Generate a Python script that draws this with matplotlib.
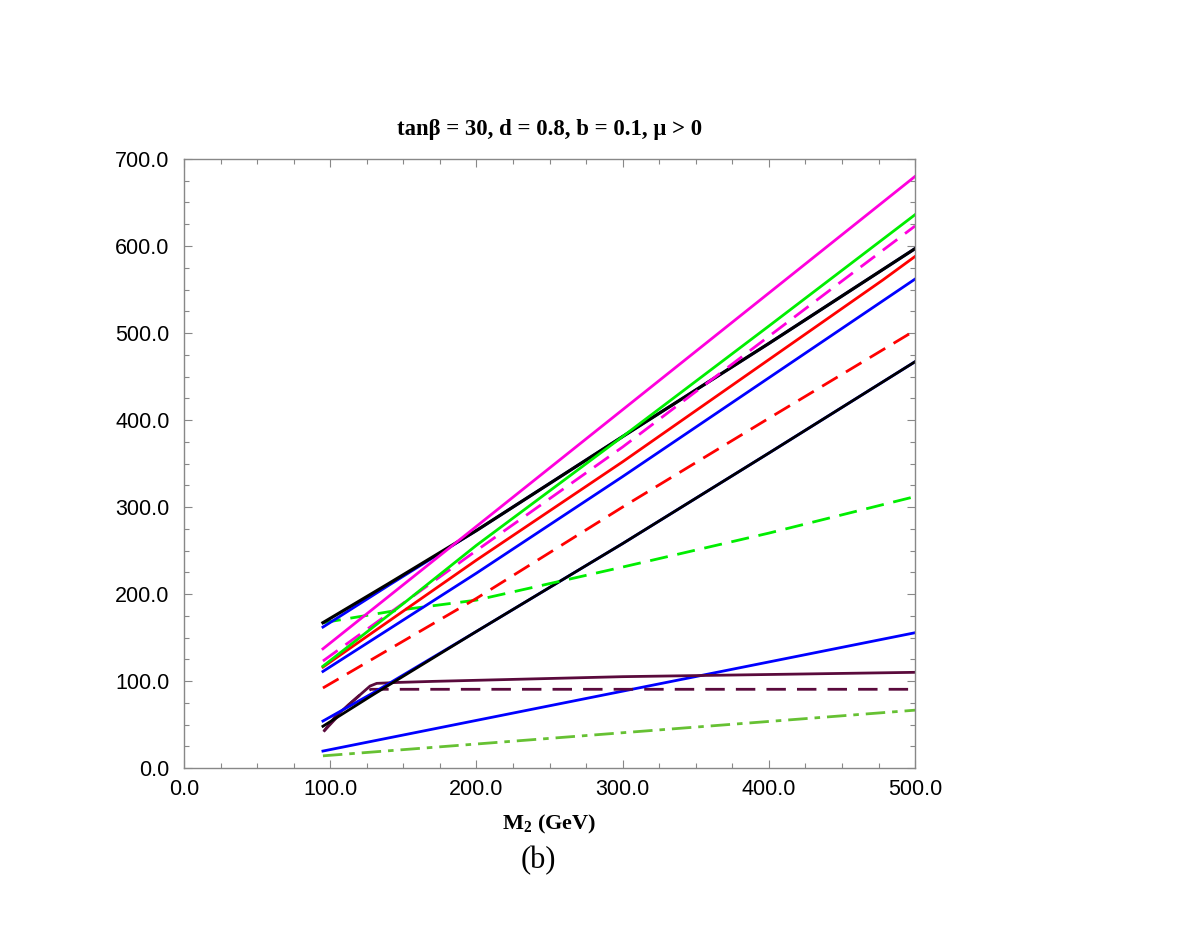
import matplotlib
matplotlib.use("Agg")
import matplotlib.pyplot as plt
from matplotlib.ticker import MultipleLocator, FormatStrFormatter

# curves, M2 in GeV vs mass in GeV
m2_lin = [95, 500]
m2_5 = [95, 200, 300, 400, 500]

magenta_solid = [137, 680]
green_solid_x = [95, 150, 200, 300, 400, 500]
green_solid = [117, 189, 256, 381, 508, 636]
magenta_dash_x = [95, 200, 300, 451, 500]
magenta_dash = [123, 250, 369, 561, 623]
black_up_x = [95, 140, 200, 300, 400, 500]
black_up = [167, 212, 273, 381, 488, 597]
blue_up = [162, 210, 273, 381, 488, 597]
red_solid_x = [95, 200, 300, 478, 500]
red_solid = [116, 239, 352, 561, 588]
blue_mid_x = [95, 200, 300, 500]
blue_mid = [111, 224, 335, 562]
red_dash = [92, 195, 300, 402, 503]
black_low_x = [95, 130, 200, 300, 400, 500]
black_low = [48, 85, 157, 258, 362, 467]
blue_low2 = [54, 87, 157, 258, 362, 467]
green_dash_x = [95, 145, 200, 237, 300, 400, 500]
green_dash = [167, 181, 193, 207, 231, 270, 312]
purple_x = [96, 103.3, 112.4, 121.5, 127.2, 131.8, 146.6, 170.5, 300, 500]
purple_solid = [43, 59, 72.4, 85.8, 94.2, 97.3, 98.4, 99.6, 105, 110]
purple_dash_x = [96, 112.4, 121.5, 128, 500]
purple_dash = [43, 72.4, 85.8, 90.5, 90.5]
blue_low = [19.5, 155.5]
green_dd = [14, 66.5]

plt.rcParams['mathtext.fontset'] = 'custom'
plt.rcParams['mathtext.rm'] = 'Liberation Serif'
plt.rcParams['mathtext.bf'] = 'Liberation Serif:bold'

fig = plt.figure(figsize=(11.99, 9.26), dpi=100)
ax = fig.add_axes([0.1535, 0.1706, 0.6097, 0.6577])

lw = 2.0
mag = '#ff00dd'
grn = '#00ee00'
pur = '#5a0a3c'
dash = (0, (6.5, 3.5))

ax.plot(m2_lin, green_dd, color='#66c133', lw=lw, ls=(0, (7, 2.5, 2, 2.5)))
ax.plot(m2_lin, blue_low, color='#0000ff', lw=lw)
ax.plot(purple_dash_x, purple_dash, color=pur, lw=lw, ls=(0, (7, 4)))
ax.plot(purple_x, purple_solid, color=pur, lw=lw)
ax.plot(black_low_x, blue_low2, color='#0000ff', lw=lw)
ax.plot(black_low_x, black_low, color='black', lw=lw)
ax.plot(green_dash_x, green_dash, color=grn, lw=lw, ls=dash)
ax.plot(m2_5, red_dash, color='#ff0000', lw=lw, ls=dash)
ax.plot(blue_mid_x, blue_mid, color='#0000ff', lw=lw)
ax.plot(red_solid_x, red_solid, color='#ff0000', lw=lw)
ax.plot(black_up_x, blue_up, color='#0000ff', lw=lw)
ax.plot(black_up_x, black_up, color='black', lw=2.3)
ax.plot(magenta_dash_x, magenta_dash, color=mag, lw=lw, ls=dash)
ax.plot(green_solid_x, green_solid, color=grn, lw=lw)
ax.plot(m2_lin, magenta_solid, color=mag, lw=lw)

ax.set_xlim(0, 500)
ax.set_ylim(0, 700)
ax.xaxis.set_major_locator(MultipleLocator(100))
ax.xaxis.set_minor_locator(MultipleLocator(25))
ax.yaxis.set_major_locator(MultipleLocator(100))
ax.yaxis.set_minor_locator(MultipleLocator(25))
ax.xaxis.set_major_formatter(FormatStrFormatter('%.1f'))
ax.yaxis.set_major_formatter(FormatStrFormatter('%.1f'))

for s in ax.spines.values():
    s.set_color('#888888')
    s.set_linewidth(1.0)
ax.tick_params(which='both', direction='in', top=True, right=True, color='#888888')
ax.tick_params(which='major', length=6, width=0.8)
ax.tick_params(which='minor', length=3.4, width=0.8)
ax.tick_params(axis='x', pad=8)
ax.tick_params(axis='y', pad=10.5)
for lab in ax.get_xticklabels() + ax.get_yticklabels():
    lab.set_family('Liberation Sans')
    lab.set_fontsize(15.5)

ax.set_title('tan\u03b2 = 30, d = 0.8, b = 0.1, \u03bc > 0', family='Liberation Serif',
             fontweight='bold', fontsize=16.4, pad=17)
ax.set_xlabel(r'$\mathbf{M_2}$ (GeV)', family='Liberation Serif', fontweight='bold',
              fontsize=16, labelpad=9)
fig.text(0.4487, 0.071, '(b)', family='Liberation Serif', fontsize=22, ha='center', va='center')

fig.savefig('out.png', dpi=100)
